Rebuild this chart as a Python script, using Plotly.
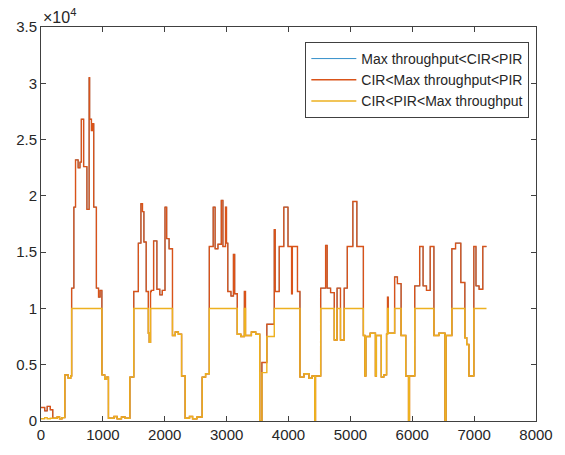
import plotly.graph_objects as go

# Sample index at which each step segment begins (last entry = end of data)
seg_start = [0, 60, 100, 150, 190, 260, 300, 340, 385, 440, 480,
             495, 531, 558, 600, 630, 652, 689, 742, 778, 786, 815, 835, 852,
             895, 930, 955, 984, 1030, 1060, 1090, 1180, 1230, 1300, 1360,
             1436, 1499, 1573, 1615, 1640, 1663, 1700, 1735, 1750, 1770, 1783,
             1820, 1873, 1920, 1960, 2004, 2031, 2070, 2125, 2170, 2220, 2272,
             2330, 2400, 2450, 2520, 2605, 2660, 2720, 2783, 2814, 2860, 2914,
             2940, 2982, 2998, 3019, 3070, 3110, 3130, 3172, 3230, 3287, 3305,
             3400, 3470, 3535, 3570, 3650, 3770, 3785, 3850, 3924, 3992, 4050,
             4062, 4145, 4185, 4250, 4330, 4380, 4424, 4436, 4520, 4600, 4625,
             4680, 4740, 4785, 4840, 4900, 4950, 5040, 5105, 5210, 5235, 5250,
             5320, 5405, 5420, 5500, 5540, 5585, 5600, 5612, 5715, 5760, 5820,
             5895, 5940, 5955, 6040, 6120, 6175, 6230, 6290, 6350, 6430, 6530,
             6545, 6640, 6700, 6785, 6850, 6880, 6915, 6995, 7030, 7080, 7140,
             7200]

# Throughput of each segment (orange series)
cir_max_pir = [1200, 900, 1300, 1000, 250, 350, 200, 300, 4100, 3800, 4000,
               11800, 19000, 23200, 22500, 23000, 26800, 22600, 18800, 30500, 26800, 25800, 26400, 19000,
               11800, 11000, 11600, 4100, 3700, 3900, 250, 400, 200, 350, 250,
               3900, 11500, 15800, 19300, 18600, 15900, 11500, 7800, 7000, 11500, 11600,
               16000, 11700, 11200, 11600, 19000, 16200, 15300, 7600, 7900, 7700, 4000,
               250, 400, 200, 350, 3900, 4200, 15500, 19000, 15300, 15700, 19600,
               15500, 19000, 15800, 11500, 11100, 14800, 11300, 7700, 7500, 11500, 7600,
               7900, 7700, 0, 5200, 8600, 17000, 11500, 15500, 19000, 15500, 11300,
               15500, 11500, 3900, 4200, 3800, 4000, 0, 4000, 11800, 15600, 11800,
               11400, 7200, 11800, 7200, 11800, 15500, 19500, 15500, 7600, 4000, 7500,
               7800, 4000, 7600, 3900, 4100, 7700, 11000, 7800, 12800, 12200, 7600,
               4000, 0, 4000, 12000, 15500, 12000, 11600, 15500, 7600, 7800, 0,
               7600, 15300, 15800, 12300, 7400, 6800, 4000, 15500, 12000, 11700, 15500,
               15500]

# Yellow series (capped at the CIR level)
cir_pir_max = [200, 300, 200, 250, 250, 350, 200, 300, 4100, 3800, 4000,
               10000, 10000, 10000, 10000, 10000, 10000, 10000, 10000, 10000, 10000, 10000, 10000, 10000,
               10000, 10000, 10000, 4100, 3700, 3900, 250, 400, 200, 350, 250,
               3900, 10000, 10000, 10000, 10000, 10000, 10000, 7800, 7000, 10000, 10000,
               10000, 10000, 10000, 10000, 10000, 10000, 10000, 7600, 7900, 7700, 4000,
               250, 400, 200, 350, 3900, 4200, 10000, 10000, 10000, 10000, 10000,
               10000, 10000, 10000, 10000, 10000, 10000, 10000, 7700, 7500, 10000, 7600,
               7900, 7700, 0, 4300, 7500, 10000, 10000, 10000, 10000, 10000, 10000,
               10000, 10000, 3900, 4200, 3800, 4000, 0, 4000, 10000, 10000, 10000,
               10000, 7200, 10000, 7200, 10000, 10000, 10000, 10000, 7600, 4000, 7500,
               7800, 4000, 7600, 3900, 4100, 7700, 10000, 7800, 10000, 10000, 7600,
               4000, 0, 4000, 10000, 10000, 10000, 10000, 10000, 7600, 7800, 0,
               7600, 10000, 10000, 10000, 7400, 6800, 4000, 10000, 10000, 10000, 10000,
               10000]

# Blue series (fully overdrawn in the original figure)
max_cir_pir = list(cir_max_pir)

x_ticks = [0, 1000, 2000, 3000, 4000, 5000, 6000, 7000, 8000]
y_ticks = [0, 5000, 10000, 15000, 20000, 25000, 30000, 35000]
y_tick_text = ['0', '0.5', '1', '1.5', '2', '2.5', '3', '3.5']

names = ['Max throughput<CIR<PIR', 'CIR<Max throughput<PIR', 'CIR<PIR<Max throughput']
colors = ['#0072BD', '#D95319', '#EDB120']
widths = [0.8, 1.4, 1.4]
series = [max_cir_pir, cir_max_pir, cir_pir_max]

fig = go.Figure()
for name, col, w, ys in zip(names, colors, widths, series):
    fig.add_trace(go.Scatter(x=seg_start, y=ys, mode='lines', name=name,
                             line=dict(color=col, width=w, shape='hv')))

axis_col = '#404040'
font_col = '#262626'
fam = 'Liberation Sans, Arial, sans-serif'
common = dict(showgrid=False, zeroline=False, showline=True, linecolor=axis_col,
              linewidth=1, mirror='ticks', ticks='inside', ticklen=5,
              tickcolor=axis_col, tickfont=dict(size=15, color=font_col, family=fam))
fig.update_xaxes(range=[0, 8000], tickvals=x_ticks, **common)
fig.update_yaxes(range=[0, 35000], tickvals=y_ticks, ticktext=y_tick_text, **common)

fig.add_annotation(text='×10<sup>4</sup>', xref='paper', yref='paper', x=0.0, y=1.0,
                   xanchor='left', yanchor='bottom', showarrow=False, yshift=-1,
                   font=dict(size=16, color=font_col, family=fam))

fig.update_layout(
    width=565, height=455, autosize=False,
    margin=dict(l=41, r=17, t=27, b=31),
    paper_bgcolor='white', plot_bgcolor='white',
    showlegend=True,
    legend=dict(x=0.534, y=0.962, xanchor='left', yanchor='top',
                bgcolor='white', bordercolor=axis_col, borderwidth=1,
                font=dict(size=14, color=font_col, family=fam),
                itemwidth=45, tracegroupgap=0),
)

fig.write_html('out.html')
